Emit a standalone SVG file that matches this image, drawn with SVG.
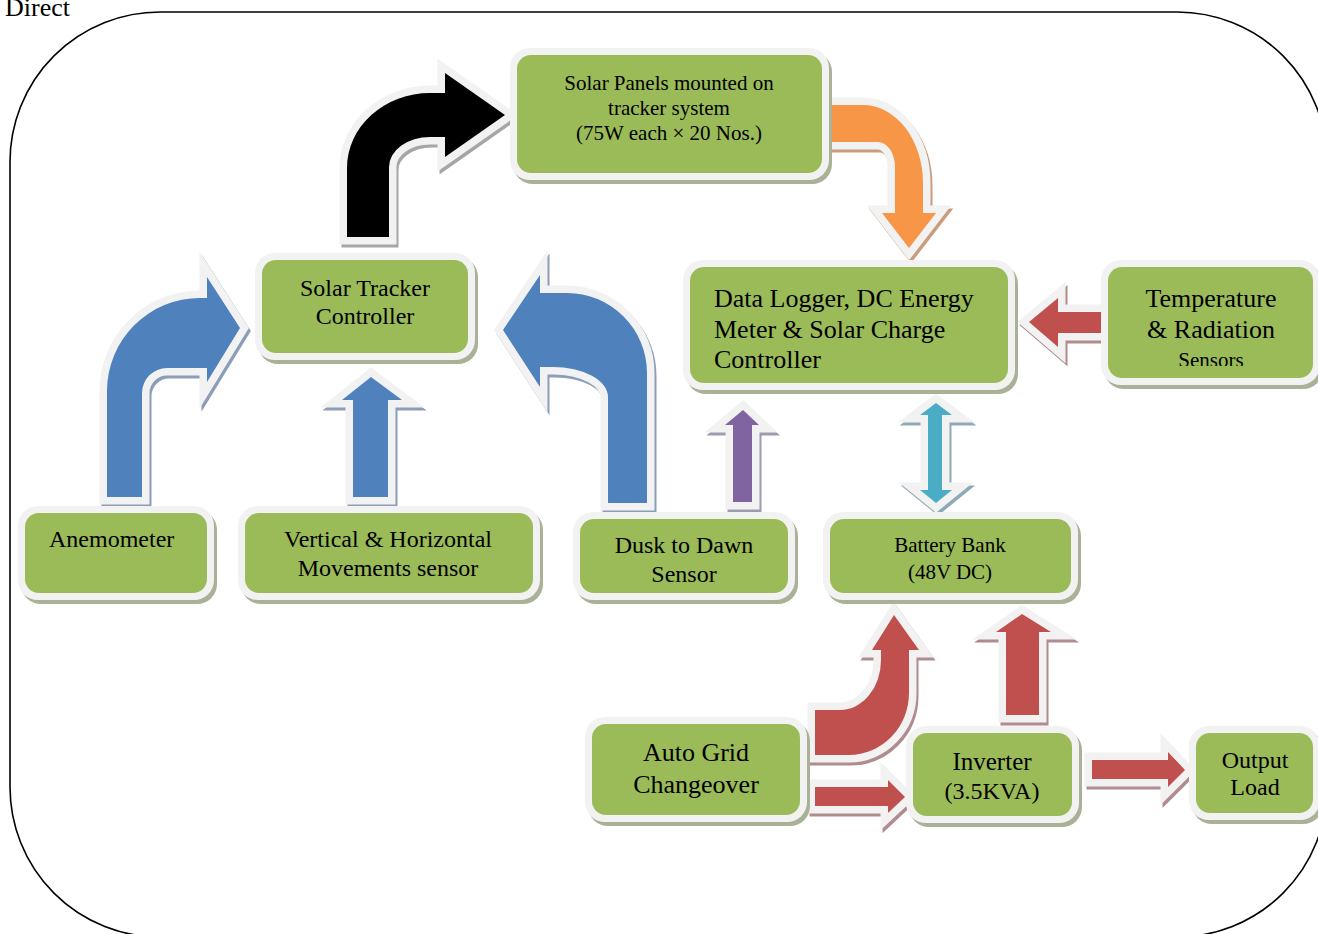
<svg xmlns="http://www.w3.org/2000/svg" xmlns:xlink="http://www.w3.org/1999/xlink" width="1318" height="934" viewBox="0 0 1318 934">
<style>
.fr{fill:none;stroke:#000;stroke-width:1.6}
.bs{fill:#A9B196}
.bb{fill:#F2F2F2}
.bx{fill:#9BBB59}
text{font-family:"Liberation Serif","Times New Roman",serif;fill:#000}
.c{text-anchor:middle}
.ar{stroke:#F2F2F2;stroke-width:15;stroke-linejoin:miter;stroke-miterlimit:10;paint-order:stroke}
.sh{stroke-width:15;stroke-linejoin:miter;stroke-miterlimit:10}
.k{fill:#000}.ks{fill:#A6A6A6;stroke:#A6A6A6}
.b{fill:#4F81BD}.bsd{fill:#8C9DB8;stroke:#8C9DB8}
.o{fill:#F79646}.os{fill:#C89C7C;stroke:#C89C7C}
.r{fill:#C0504D}.rs{fill:#B08C8E;stroke:#B08C8E}
.p{fill:#8064A2}.ps{fill:#A09AAF;stroke:#A09AAF}
.t{fill:#4BACC6}.ts{fill:#8FAAB6;stroke:#8FAAB6}
</style>
<defs>
<path id="a1" d="M347,237 L347,168 A83,75 0 0 1 430,93 L445,93 L445,73 L505,115 L445,157 L445,137 L430,137 A41,30 0 0 0 389,167 L389,237 Z"/>
<path id="a2" d="M107,497 L107,391 A93,93 0 0 1 200,298 L207,298 L207,277 L240,328 L207,382 L207,368 L167,368 A25,25 0 0 0 142,393 L142,497 Z"/>
<path id="a3" d="M353,497 L353,400 L342,400 L371,377 L402,400 L388,400 L388,497 Z"/>
<path id="a4" d="M647,503 L647,373 A80,80 0 0 0 567,293 L540,293 L540,275 L503,330 L540,387 L540,367 L553,367 A55,30 0 0 1 608,397 L608,503 Z"/>
<path id="a5" d="M830,105 L863,105 A60,78 0 0 1 923,183 L923,213 L936,213 L909,248 L882,213 L895,213 L895,167 A17,25 0 0 0 878,142 L830,142 Z"/>
<path id="a6" d="M1103,312 L1058,312 L1058,298 L1029,322 L1058,347 L1058,333 L1103,333 Z"/>
<path id="a7" d="M733,502 L733,425 L725,425 L743,410 L759,425 L752,425 L752,502 Z"/>
<path id="a8" d="M928,415 L920,415 L936,403 L952,415 L942,415 L942,490 L952,490 L936,503 L920,490 L928,490 Z"/>
<path id="a9" d="M815,710 L840,710 A41,50 0 0 0 881,660 L881,650 L872,650 L894,615 L919,650 L909,650 L909,693 A60,62 0 0 1 849,755 L815,755 Z"/>
<path id="a10" d="M1006,715 L1006,632 L996,632 L1022,614 L1051,632 L1039,632 L1039,715 Z"/>
<path id="a11" d="M815,787 L888,787 L888,780 L905,797 L888,813 L888,806 L815,806 Z"/>
<path id="a12" d="M1092,760 L1168,760 L1168,752 L1185,770 L1168,787 L1168,779 L1092,779 Z"/>
<clipPath id="cs"><rect x="1108" y="340" width="205" height="26"/></clipPath>
</defs>

<rect class="fr" x="10" y="12" width="1317" height="925" rx="150" ry="150"/>
<text x="5" y="16" font-size="26">Direct</text>

<g id="connectors">
<use xlink:href="#a1" class="sh ks" transform="translate(2,3)"/><use xlink:href="#a1" class="ar k"/>
<use xlink:href="#a2" class="sh bsd" transform="translate(2,3)"/><use xlink:href="#a2" class="ar b"/>
<use xlink:href="#a3" class="sh bsd" transform="translate(2,3)"/><use xlink:href="#a3" class="ar b"/>
<use xlink:href="#a4" class="sh bsd" transform="translate(2,3)"/><use xlink:href="#a4" class="ar b"/>
<use xlink:href="#a5" class="sh os" transform="translate(2,3)"/><use xlink:href="#a5" class="ar o"/>
<use xlink:href="#a6" class="sh rs" transform="translate(2,3)"/><use xlink:href="#a6" class="ar r"/>
<use xlink:href="#a7" class="sh ps" transform="translate(2,3)"/><use xlink:href="#a7" class="ar p"/>
<use xlink:href="#a8" class="sh ts" transform="translate(2,3)"/><use xlink:href="#a8" class="ar t"/>
<use xlink:href="#a9" class="sh rs" transform="translate(2,3)"/><use xlink:href="#a9" class="ar r"/>
<use xlink:href="#a10" class="sh rs" transform="translate(2,3)"/><use xlink:href="#a10" class="ar r"/>
<use xlink:href="#a11" class="sh rs" transform="translate(2,3)"/><use xlink:href="#a11" class="ar r"/>
<use xlink:href="#a12" class="sh rs" transform="translate(2,3)"/><use xlink:href="#a12" class="ar r"/>
</g>

<g id="n-solar-panels">
<rect class="bs" x="513" y="52" width="319" height="132" rx="20"/>
<rect class="bb" x="510" y="48" width="319" height="132" rx="20"/>
<rect class="bx" x="517" y="55" width="305" height="118" rx="14"/>
<text class="c" x="669" y="90" font-size="21">Solar Panels mounted on</text>
<text class="c" x="669" y="115" font-size="21">tracker system</text>
<text class="c" x="669" y="140" font-size="21">(75W each × 20 Nos.)</text>
</g>

<g id="n-tracker">
<rect class="bs" x="258" y="257" width="220" height="107" rx="20"/>
<rect class="bb" x="255" y="253" width="220" height="107" rx="20"/>
<rect class="bx" x="262" y="260" width="206" height="93" rx="14"/>
<text class="c" x="365" y="296" font-size="24">Solar Tracker</text>
<text class="c" x="365" y="324" font-size="24">Controller</text>
</g>

<g id="n-anemometer">
<rect class="bs" x="21" y="510" width="196" height="94" rx="20"/>
<rect class="bb" x="18" y="506" width="196" height="94" rx="20"/>
<rect class="bx" x="25" y="513" width="182" height="80" rx="14"/>
<text x="49" y="547" font-size="24">Anemometer</text>
</g>

<g id="n-vh-sensor">
<rect class="bs" x="241" y="510" width="302" height="94" rx="20"/>
<rect class="bb" x="238" y="506" width="302" height="94" rx="20"/>
<rect class="bx" x="245" y="513" width="288" height="80" rx="14"/>
<text class="c" x="388" y="547" font-size="24">Vertical &amp; Horizontal</text>
<text class="c" x="388" y="576" font-size="24">Movements sensor</text>
</g>

<g id="n-dusk">
<rect class="bs" x="576" y="516" width="222" height="88" rx="20"/>
<rect class="bb" x="573" y="512" width="222" height="88" rx="20"/>
<rect class="bx" x="580" y="519" width="208" height="74" rx="14"/>
<text class="c" x="684" y="553" font-size="24">Dusk to Dawn</text>
<text class="c" x="684" y="582" font-size="24">Sensor</text>
</g>

<g id="n-battery">
<rect class="bs" x="826" y="516" width="255" height="88" rx="20"/>
<rect class="bb" x="823" y="512" width="255" height="88" rx="20"/>
<rect class="bx" x="830" y="519" width="241" height="74" rx="14"/>
<text class="c" x="950" y="552" font-size="21">Battery Bank</text>
<text class="c" x="950" y="579" font-size="21">(48V DC)</text>
</g>

<g id="n-datalogger">
<rect class="bs" x="686" y="264" width="332" height="130" rx="20"/>
<rect class="bb" x="683" y="260" width="332" height="130" rx="20"/>
<rect class="bx" x="690" y="267" width="318" height="116" rx="14"/>
<text x="714" y="307" font-size="26">Data Logger, DC Energy</text>
<text x="714" y="338" font-size="26">Meter &amp; Solar Charge</text>
<text x="714" y="368" font-size="26">Controller</text>
</g>

<g id="n-temperature">
<rect class="bs" x="1104" y="264" width="219" height="125" rx="20"/>
<rect class="bb" x="1101" y="260" width="219" height="125" rx="20"/>
<rect class="bx" x="1108" y="267" width="205" height="111" rx="14"/>
<text class="c" x="1211" y="307" font-size="26">Temperature</text>
<text class="c" x="1211" y="338" font-size="26">&amp; Radiation</text>
<text class="c" x="1211" y="367" font-size="21" clip-path="url(#cs)">Sensors</text>
</g>

<g id="n-autogrid">
<rect class="bs" x="588" y="721" width="222" height="105" rx="20"/>
<rect class="bb" x="585" y="717" width="222" height="105" rx="20"/>
<rect class="bx" x="592" y="724" width="208" height="91" rx="14"/>
<text class="c" x="696" y="761" font-size="26">Auto Grid</text>
<text class="c" x="696" y="793" font-size="26">Changeover</text>
</g>

<g id="n-inverter">
<rect class="bs" x="909" y="730" width="173" height="97" rx="20"/>
<rect class="bb" x="906" y="726" width="173" height="97" rx="20"/>
<rect class="bx" x="913" y="733" width="159" height="83" rx="14"/>
<text class="c" x="992" y="770" font-size="25">Inverter</text>
<text class="c" x="992" y="799" font-size="24">(3.5KVA)</text>
</g>

<g id="n-output">
<rect class="bs" x="1192" y="730" width="131" height="94" rx="20"/>
<rect class="bb" x="1189" y="726" width="131" height="94" rx="20"/>
<rect class="bx" x="1196" y="733" width="117" height="80" rx="14"/>
<text class="c" x="1255" y="768" font-size="24">Output</text>
<text class="c" x="1255" y="795" font-size="24">Load</text>
</g>
</svg>
